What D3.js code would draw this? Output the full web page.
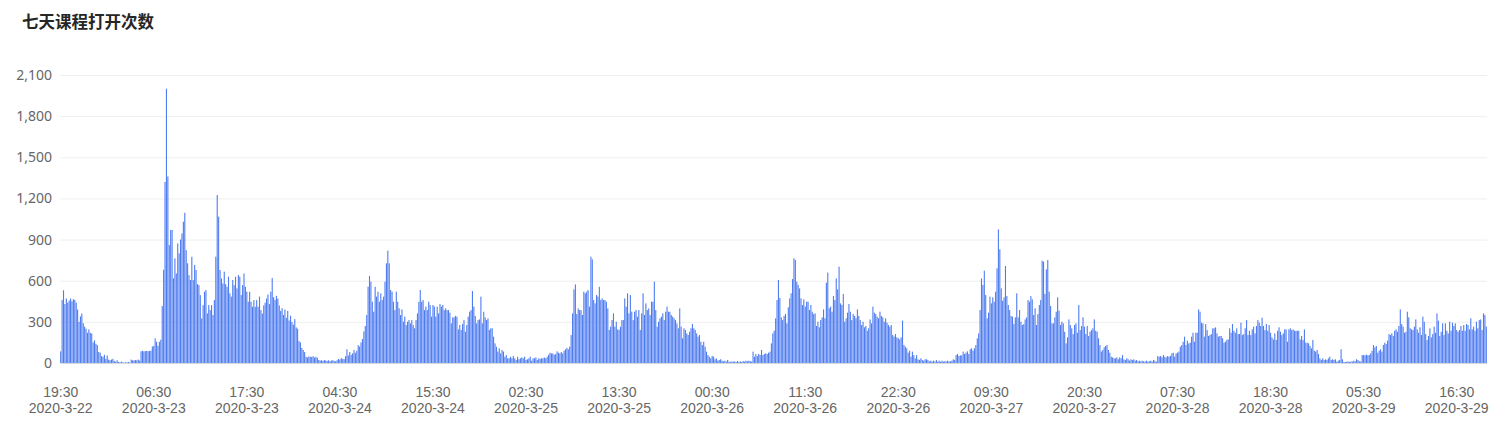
<!DOCTYPE html>
<html><head><meta charset="utf-8">
<script src="https://cdn.jsdelivr.net/npm/d3@7"></script>
<style>
body{margin:0;background:#fff;}
svg{display:block;}
</style></head><body>
<svg id="chart" width="1509" height="436"></svg>
<script>
const chartTitle = "七天课程打开次数";
const startTime = "2020-03-22T19:30:00";
const stepMinutes = 10;
const labelEvery = 66;
const yTicks = [0, 300, 600, 900, 1200, 1500, 1800, 2100];

// Opens per 10-minute slot
const day1 = [
  85,
  460, 530, 430, 470, 440, 455, 470, 450, 465, 460, 440,
  390, 300, 340, 360, 290,
  265, 250, 220, 245, 220, 215, 150,
  165, 140, 130, 80, 75,
  50, 45, 60, 30, 55, 25,
  20, 25, 30, 15, 10, 20, 8, 5, 10, 5,
  3, 5, 4, 8, 3, 25, 20, 18,
  22, 20, 25, 18,
  85, 88, 85, 87, 88, 86, 88, 90,
  120, 125, 180, 155, 125, 155, 170,
  415, 680, 1320, 2000, 1360,
  860, 970, 970, 617, 763, 653, 872, 800, 900, 945, 1030, 1095, 823, 727, 640, 605, 775, 605, 714, 678,
  575, 568, 495, 325, 422, 520, 532, 362, 422, 386, 422, 350, 459, 775,
  1225, 1067,
  678, 617, 580, 666, 575, 556, 629, 508, 484, 605, 568, 629, 544, 641, 629,
  496, 568, 653, 556, 520, 447, 520, 447, 410, 459, 410, 459, 410, 484, 386,
  360, 420, 440, 470, 500, 430, 520, 620, 480, 460, 490, 470, 420, 380,
  400, 350, 390, 330, 380, 310, 345, 300, 280, 320, 260, 250, 160, 150
];
const day2 = [
  110, 95, 80, 45, 40, 48, 45, 45, 50, 40,
  45, 38, 22, 18, 20, 15, 22, 18, 15, 20,
  12, 18, 20, 15, 12, 20, 30, 25, 35, 30,
  28, 50, 100, 55, 80, 60, 70, 95, 75, 90,
  130, 120, 150, 175, 230, 270, 350,
  556, 634, 593, 447, 374, 556, 484, 520, 447, 508,
  459, 484, 593, 727, 819, 727, 532, 520, 447, 386,
  520, 447, 399, 350, 391, 301, 338, 277, 301, 313,
  289, 313, 277, 253, 313, 362, 447, 532, 447, 459,
  386, 411, 386, 447, 423, 338, 423, 411, 338, 411,
  362, 430, 411, 423, 386, 399, 386, 386, 367, 289,
  333, 333, 343, 338, 245, 277, 241, 284, 313, 228,
  277, 338, 374, 386, 525, 411, 343, 289, 313, 318,
  484, 289, 374, 333, 313, 325, 241, 253, 253, 192,
  143, 119, 83, 107, 70, 95, 83, 46, 58, 34,
  34, 46, 34, 51, 34, 22, 46, 27, 34, 41,
  34, 46, 22, 27, 34, 46, 17, 34, 34, 41,
  22, 34, 30
];
const day3 = [
  34, 34, 40, 34, 46, 60, 75, 70, 70, 60, 65, 85, 75, 70, 80, 70, 90, 100, 110, 100, 120, 204, 362,
  537, 573, 357, 398, 386, 386, 350, 520, 508, 520,
  532, 411, 775, 756, 459, 435, 496, 484, 556, 459,
  471, 459, 459, 447, 398, 241, 265, 313, 362, 265,
  301, 245, 241, 265, 313, 313, 471, 411, 508, 362,
  496, 374, 313, 374, 386, 338, 386, 241, 362, 508,
  350, 435, 386, 398, 350, 447, 447, 593, 386, 265,
  301, 326, 338, 362, 313, 374, 411, 374, 374, 350,
  338, 326, 313, 289, 253, 398, 265, 180, 253, 241,
  216, 204, 228, 253, 284, 253, 241, 216, 192, 204,
  155, 131, 155, 119, 83, 58, 46, 34, 51, 46,
  27, 34, 17, 22, 27, 17, 12, 17, 10, 22,
  10, 7, 12, 10, 12, 7, 15, 7, 12, 7,
  15, 10, 17, 12, 17, 15, 10, 83, 46, 66,
  51, 66, 58, 95, 58, 66, 70, 66, 75, 83,
  143, 216, 236, 326, 459, 605, 475
];
const day4 = [
  333, 313, 343, 357, 289, 406, 471, 508, 612, 763,
  751, 593, 569, 544, 471, 423, 464, 411, 447, 447,
  386, 423, 374, 357, 362, 270, 301, 260, 313, 333,
  391, 326, 586, 659, 399, 411, 374, 488, 459, 617,
  537, 702, 435, 423, 503, 301, 326, 367, 430, 374,
  313, 357, 343, 326, 391, 343, 313, 277, 301, 260,
  270, 235, 253, 318, 289, 411, 367, 357, 338, 326,
  374, 343, 333, 301, 326, 294, 277, 265, 277, 204,
  192, 211, 187, 180, 172, 187, 309, 131, 119, 107,
  75, 90, 46, 83, 58, 34, 58, 27, 22, 34,
  22, 17, 27, 27, 22, 12, 17, 10, 17, 10,
  22, 10, 17, 10, 17, 10, 15, 10, 17, 12,
  12, 17, 27, 22, 58, 66, 51, 56, 56, 83,
  66, 75, 85, 66, 100, 107, 90, 107, 131, 180,
  216, 386, 617, 569, 673, 496, 326, 367, 484, 435,
  479, 447, 520, 690, 974, 829, 544, 454, 479, 707,
  488, 423, 386, 343, 338, 284, 333, 508, 333, 386
];
const day5 = [
  301, 277, 284, 318, 333, 459, 447, 488, 464, 350,
  399, 277, 357, 423, 459, 746, 739, 503, 683, 751,
  520, 416, 289, 289, 333, 374, 479, 382, 277, 301,
  289, 228, 143, 187, 318, 277, 253, 211, 277, 289,
  221, 423, 240, 270, 333, 265, 211, 270, 197, 228,
  240, 253, 318, 235, 228, 180, 131, 83, 95, 114,
  124, 131, 95, 75, 46, 41, 34, 34, 41, 27,
  41, 34, 58, 27, 22, 34, 27, 17, 27, 22,
  27, 17, 22, 12, 17, 12, 17, 12, 10, 17,
  10, 12, 17, 10, 22, 17, 10, 51, 46, 51,
  41, 58, 46, 41, 51, 46, 51, 70, 75, 46,
  70, 75, 83, 119, 131, 155, 192, 131, 163, 143,
  148, 192, 221, 155, 221, 221, 391, 374, 294, 289,
  192, 284, 240, 197, 204, 211, 253, 253, 260, 216,
  192, 197, 197, 180, 148, 155, 168, 172, 253, 221,
  284, 235, 221, 253, 211, 211, 294, 204, 211, 253,
  313, 204, 235, 204, 245, 265, 216, 270, 313, 294,
  270
];
const day6 = [
  330, 270, 240, 284, 235, 277, 221, 187, 172, 216,
  168, 235, 260, 228, 204, 216, 245, 245, 155, 245,
  253, 240, 245, 235, 235, 235, 235, 172, 197, 168,
  245, 148, 148, 143, 124, 107, 168, 90, 83, 95,
  66, 34, 22, 34, 22, 27, 22, 34, 46, 22,
  27, 22, 27, 10, 17, 22, 100, 27, 7, 7,
  10, 12, 7, 12, 10, 17, 12, 27, 22, 12,
  12, 58, 58, 56, 61, 56, 58, 70, 90, 131,
  114, 124, 75, 90, 100, 83, 131, 148, 138, 163,
  211, 204, 216, 197, 235, 245, 228, 270, 391, 284,
  265, 221, 228, 374, 333, 253, 245, 240, 265, 318,
  245, 221, 260, 204, 338, 301, 211, 168, 197, 253,
  187, 211, 265, 221, 362, 309, 197, 228, 289, 204,
  289, 235, 216, 301, 235, 294, 270, 289, 240, 228,
  240, 270, 235, 277, 235, 284, 277, 245, 326, 245,
  265, 235, 301, 253, 313, 318, 240, 362, 350, 265
];
const values = [].concat(day1, day2, day3, day4, day5, day6);

// categories: 10-minute time slots
const t0 = new Date(startTime);
const categories = values.map((_, i) => d3.timeMinute.offset(t0, i * stepMinutes));

const margin = {left: 60, right: 22, top: 75, bottom: 73};
const W = 1509, H = 436;
const svg = d3.select("#chart");

const x = d3.scaleBand().domain(d3.range(values.length)).range([margin.left, W - margin.right]).paddingInner(0.22).paddingOuter(0.1);
const y = d3.scaleLinear().domain([0, 2100]).range([H - margin.bottom, margin.top]);

// title
svg.append("text").attr("x", 22).attr("y", 28)
  .attr("font-family", "'Noto Sans CJK SC', sans-serif").attr("font-size", 16.5).attr("font-weight", 700)
  .attr("fill", "#262626").text(chartTitle);

// y axis with grid
const yAxis = svg.append("g").attr("transform", `translate(${margin.left},0)`)
  .call(d3.axisLeft(y).tickValues(yTicks).tickFormat(d3.format(",")).tickSize(-(W - margin.right - margin.left)).tickPadding(8));
yAxis.select(".domain").remove();
yAxis.selectAll(".tick line").attr("stroke", "#efefef").attr("stroke-width", 1);
yAxis.selectAll(".tick text").attr("fill", "#666").attr("font-size", 14).attr("font-family", "'Noto Sans', sans-serif");

// bars
svg.append("g").selectAll("rect").data(values).join("rect")
  .attr("x", (d, i) => x(i)).attr("width", x.bandwidth())
  .attr("y", d => y(d)).attr("height", d => y(0) - y(d))
  .attr("fill", "#4f7cf0");

// x axis: one axis for the time line, one for the date line
const fmtTime = d3.timeFormat("%H:%M");
const fmtDate = d => `${d.getFullYear()}-${d.getMonth() + 1}-${d.getDate()}`;
const tickIdx = d3.range(0, values.length, labelEvery);
const xAxis = svg.append("g").attr("transform", `translate(0,${y(0)})`)
  .call(d3.axisBottom(x).tickValues(tickIdx).tickSize(0).tickPadding(0).tickFormat(""));
xAxis.select(".domain").attr("stroke", "#d9d9d9");
xAxis.selectAll(".tick text").each(function(i) {
  const t = d3.select(this);
  t.attr("y", 0).attr("dy", null).attr("fill", "#666").attr("font-size", 14).attr("font-family", "'Liberation Sans', Arial, sans-serif");
  t.append("tspan").attr("x", 0).attr("y", 34).text(fmtTime(categories[i]));
  t.append("tspan").attr("x", 0).attr("y", 50).text(fmtDate(categories[i]));
});
</script>
</body></html>
